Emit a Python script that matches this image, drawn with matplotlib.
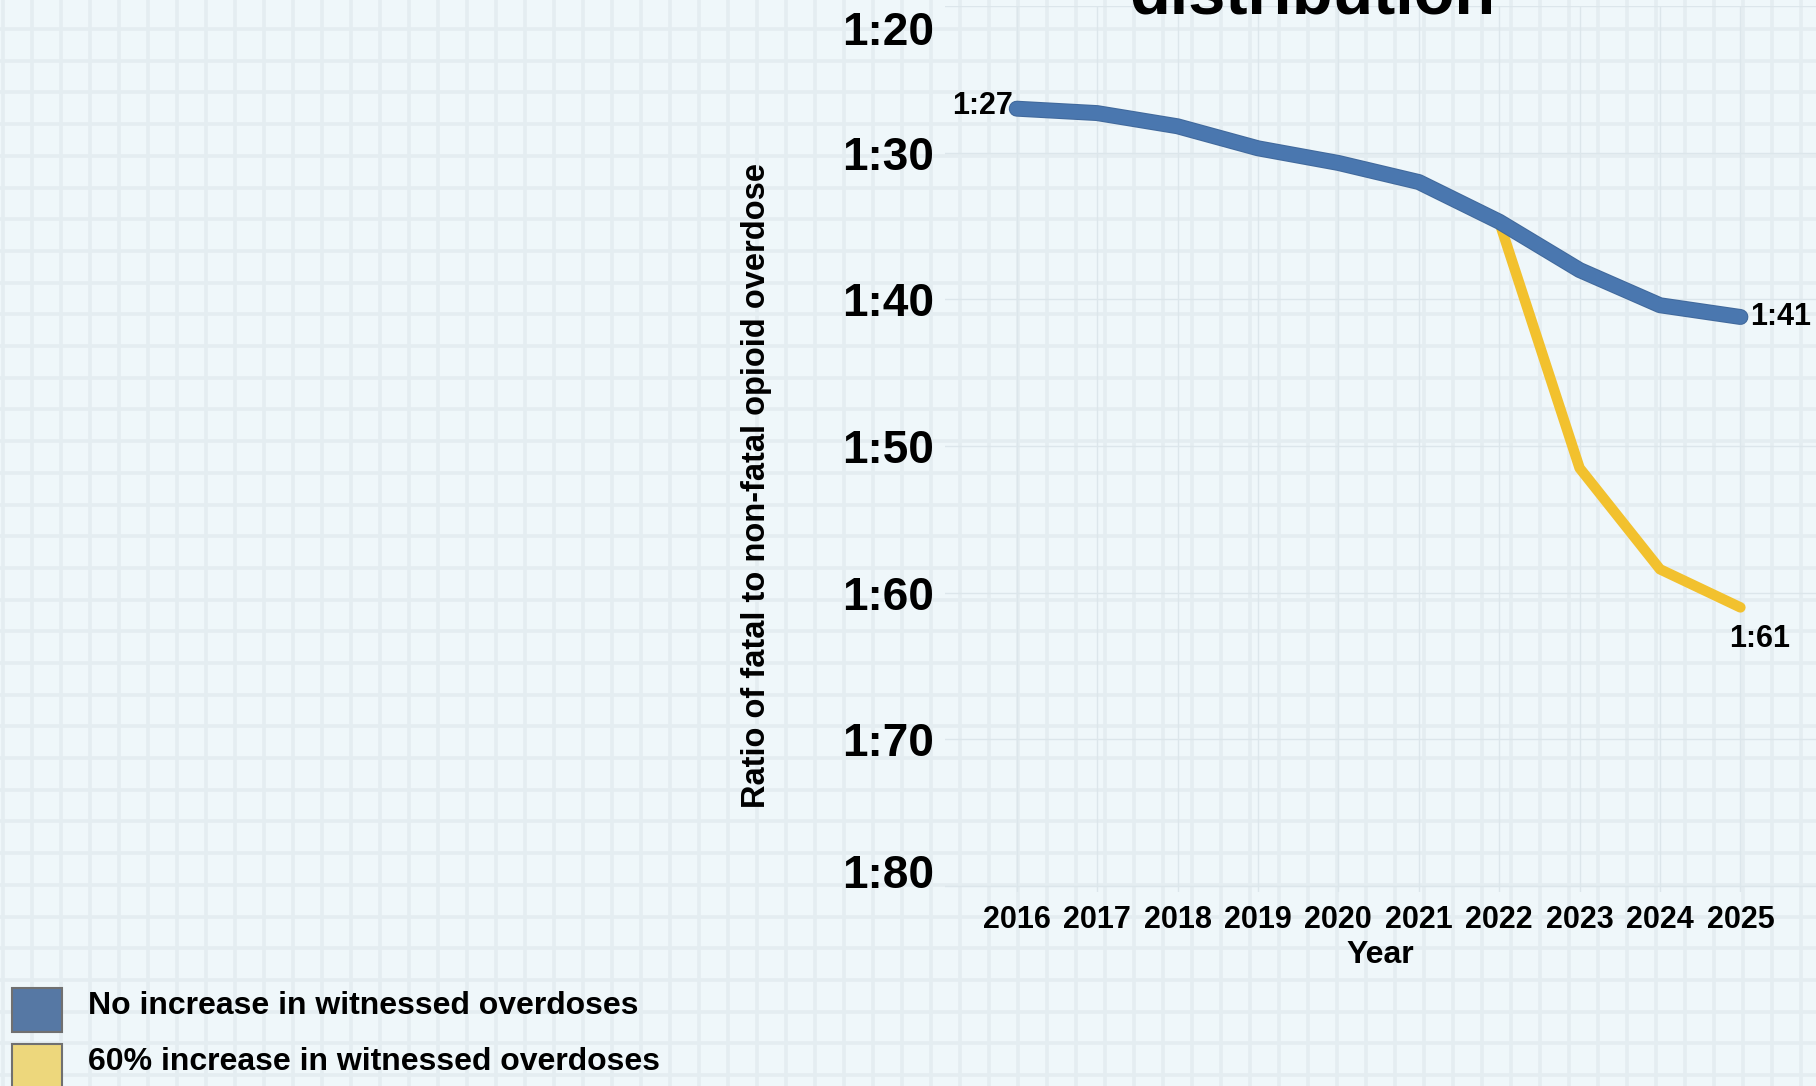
import matplotlib
matplotlib.use("Agg")
import matplotlib.pyplot as plt
from matplotlib.ticker import MultipleLocator, FixedLocator
from matplotlib.patches import Rectangle
import matplotlib.patheffects as pe
import matplotlib.transforms as mtransforms

years = [2016, 2017, 2018, 2019, 2020, 2021, 2022, 2023, 2024, 2025]
no_increase = [27.0, 27.3, 28.2, 29.7, 30.7, 32.0, 34.7, 38.0, 40.4, 41.2]
inc_years = [2022, 2023, 2024, 2025]
increase_60 = [34.7, 51.5, 58.4, 61.0]
yticks = [20, 30, 40, 50, 60, 70, 80]
ytick_labels = ["1:20", "1:30", "1:40", "1:50", "1:60", "1:70", "1:80"]
series_labels = ["No increase in witnessed overdoses", "60% increase in witnessed overdoses"]
title_text = "distribution"

BLUE = "#4A77AF"
YELLOW = "#F2C12E"
LEG_BLUE = "#5678A4"
LEG_YELLOW = "#EDD77C"
BG = "#EFF7FA"
FONT = "Liberation Sans"

W, H = 1816, 1086
fig = plt.figure(figsize=(W / 100, H / 100), dpi=100)
fig.patch.set_facecolor(BG)

# background graph-paper grid
bg = fig.add_axes([0, 0, 1, 1], zorder=0)
bg.set_xlim(0, W)
bg.set_ylim(H, 0)
bg.set_facecolor(BG)
bg.xaxis.set_major_locator(MultipleLocator(29, offset=3))
bg.yaxis.set_major_locator(MultipleLocator(31.7, offset=29))
bg.grid(True, color="#E4EDF1", lw=2.6)
bg.tick_params(length=0, labelbottom=False, labelleft=False)
for s in bg.spines.values():
    s.set_visible(False)

left = 945 / W
bottom = 1 - 892 / H
top = 1 - 6 / H
ax = fig.add_axes([left, bottom, 1 - left, top - bottom], zorder=1)
ax.set_facecolor("none")
ax.set_xlim(2015.108, 2025.94)
ax.set_ylim(80.4, 20.0)

ax.plot(inc_years, increase_60, color=YELLOW, lw=7.5, solid_capstyle="round",
        solid_joinstyle="round", zorder=3)
ax.plot(years, no_increase, color=BLUE, lw=10, solid_capstyle="round",
        solid_joinstyle="round", zorder=4,
        path_effects=[pe.Stroke(linewidth=11.5, foreground="#41699C"), pe.Normal()])

ax.set_xticks(years)
ax.set_xticklabels([str(y) for y in years], fontsize=22, fontweight="bold", family=FONT)
ax.yaxis.set_major_locator(FixedLocator(yticks))
ax.set_yticklabels(ytick_labels, fontsize=33, fontweight="bold", family=FONT)
ax.tick_params(axis="both", length=0)
ax.tick_params(axis="x", pad=9)
ax.tick_params(axis="y", pad=8)
ax.grid(True, color="#DCE6EB", lw=1.0, zorder=0)
for k, s in ax.spines.items():
    s.set_visible(False)

# nudge the outermost y labels as in the reference layout
label_shift = {0: -16.0, len(yticks) - 1: 11.0}
for i, t in enumerate(ax.yaxis.get_major_ticks()):
    if i in label_shift:
        t.label1.set_transform(t.label1.get_transform() +
                               mtransforms.ScaledTranslation(0, label_shift[i] / 72,
                                                             fig.dpi_scale_trans))

ax.set_xlabel("Year", fontsize=23, fontweight="bold", family=FONT, labelpad=4)
ax.set_ylabel("Ratio of fatal to non-fatal opioid overdose", fontsize=23.5,
              fontweight="bold", family=FONT)
ax.yaxis.set_label_coords((772 - 945) / (W - 945), 1 - (486 - 6) / (892 - 6))

# end labels
ax.annotate(f"1:{round(no_increase[0])}", (years[0], no_increase[0]), xytext=(-3, 2),
            textcoords="offset points", ha="right", va="center",
            fontsize=22, fontweight="bold", family=FONT)
ax.annotate(f"1:{round(no_increase[-1])}", (years[-1], no_increase[-1]), xytext=(7, 0),
            textcoords="offset points", ha="left", va="center",
            fontsize=22, fontweight="bold", family=FONT, annotation_clip=False)
ax.annotate(f"1:{round(increase_60[-1])}", (inc_years[-1], increase_60[-1]), xytext=(14, -23),
            textcoords="offset points", ha="center", va="center",
            fontsize=22, fontweight="bold", family=FONT)

# cut-off title
fig.text(1312 / W, 1 - 14 / H, title_text, ha="center", va="baseline",
         fontsize=48, fontweight="bold", family=FONT)

# legend
for i, (lab, col) in enumerate(zip(series_labels, [LEG_BLUE, LEG_YELLOW])):
    y0 = 988 + i * 56
    fig.add_artist(Rectangle((12 / W, 1 - (y0 + 44) / H), 50 / W, 44 / H,
                             transform=fig.transFigure, facecolor=col,
                             edgecolor="#707070", lw=1.5))
    fig.text(88 / W, 1 - (y0 + 18) / H, lab, ha="left", va="center",
             fontsize=23, fontweight="bold", family=FONT)

fig.savefig("out.png", dpi=100, facecolor=BG)
